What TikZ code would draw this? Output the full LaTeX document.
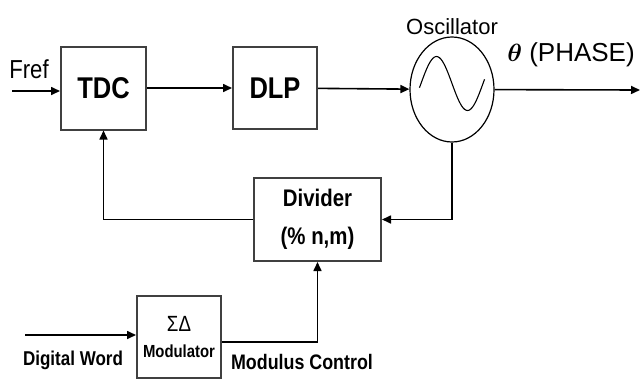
\documentclass[tikz,border=0pt]{standalone}
\usepackage{amsmath}
\usepackage{fontspec}
\setmainfont{Liberation Sans}[FakeStretch=0.85]
\newfontfamily\widefont{Liberation Sans}
\usetikzlibrary{shapes.geometric,arrows.meta,positioning,calc}

\begin{document}
\begin{tikzpicture}[x=1pt, y=-1pt, >={Triangle[length=9pt,width=8pt]},
    block/.style={draw=black!75, line width=2pt, fill=white, inner sep=0pt},
    wire/.style={line width=1.6pt},
    every node/.style={font=\fontsize{20}{22}\selectfont}]
    \useasboundingbox (0,0) rectangle (640,381);
        \node[block, minimum width=85pt, minimum height=83pt, font=\bfseries\fontsize{30}{32}\selectfont] (tdc) at (103.5,88) {TDC};
        \node[block, minimum width=84pt, minimum height=82pt, font=\bfseries\fontsize{30}{32}\selectfont] (dlp) at (275,88) {DLP};
        \node[ellipse, draw, line width=1.2pt, minimum width=84pt, minimum height=105pt] (osc) at (452,89.5) {};
        \draw[line width=1.1pt, shift={(osc.center)}] plot[domain=-1.05:1.05, samples=50] ({31*\x}, {27*sin(180*\x)-6});
        \node[above=-2pt of osc, font=\widefont\fontsize{22}{24}\selectfont] (osclabel) {Oscillator};
        \node[font=\widefont\fontsize{26}{28}\selectfont] (phase) at (571,55) {$\boldsymbol{\theta}$ (PHASE)};
        \node[block, minimum width=127pt, minimum height=83pt, align=center, font=\bfseries\fontsize{24}{38}\selectfont] (div) at (317.5,219.5) {Divider\\(\% n,m)};
        \node[block, minimum width=84pt, minimum height=82pt, align=center] (mod) at (179,337) {\fontsize{22}{22}\selectfont ΣΔ\\[4pt]\bfseries\fontsize{17.5}{18}\selectfont Modulator};
        \coordinate (fref) at (12,91);
        \coordinate (dw) at (25,335);
        \coordinate (out) at (640,90);
        \node[font=\fontsize{26}{28}\selectfont] (freflabel) at (29,69) {Fref};
        \node[font=\bfseries\fontsize{20}{22}\selectfont] (dwlabel) at (73,360) {Digital Word};
        \node[font=\bfseries\fontsize{21}{23}\selectfont] (modctl) at (302,362) {Modulus Control};
        \draw[wire, ->] (fref) -- (fref -| tdc.west);
        \draw[wire, ->] (tdc) -- (dlp);
        \draw[wire, ->] (dlp) -- (osc);
        \draw[wire, ->] (osc) -- (out);
        \draw[wire, ->] (osc.south) |- (div.east);
        \draw[wire, ->] (div.west) -| (tdc.south);
        \draw[wire, ->] (dw) -- (dw -| mod.west);
        \draw[wire, ->] ([yshift=-5pt]mod.east) -| (div.south);
    \end{tikzpicture}
\end{document}
